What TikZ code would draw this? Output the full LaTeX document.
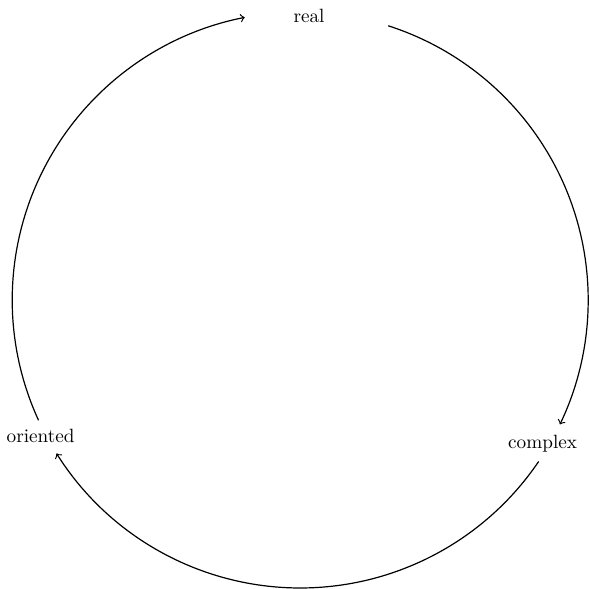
\documentclass[tikz,border=0pt]{standalone}
\usetikzlibrary{calc}
\begin{document}
\begin{tikzpicture}[x=1pt,y=1pt,
  lbl/.style={inner sep=0pt, font=\fontsize{9.6}{11}\selectfont},
  cyc/.style={->, line width=0.6pt}]
\useasboundingbox (0,0) rectangle (294.5,294.5);
\coordinate (c) at (150.1,144.5);
\def\R{144pt}
\node[lbl] (real) at (154.5,286.3) {real};
\node[lbl] (complex) at (271.3,72.5) {complex};
\node[lbl] (oriented) at (20.3,76.5) {oriented};
\coordinate (s1) at ($(c)+(72.2:\R)$);
\coordinate (s2) at ($(c)+(-34.1:\R)$);
\coordinate (s3) at ($(c)+(204.7:\R)$);
\draw[cyc] (s1) arc[start angle=72.2, end angle=-25.6, radius=\R];
\draw[cyc] (s2) arc[start angle=-34.1, end angle=-147.8, radius=\R];
\draw[cyc] (s3) arc[start angle=204.7, end angle=101.1, radius=\R];
\end{tikzpicture}
\end{document}
